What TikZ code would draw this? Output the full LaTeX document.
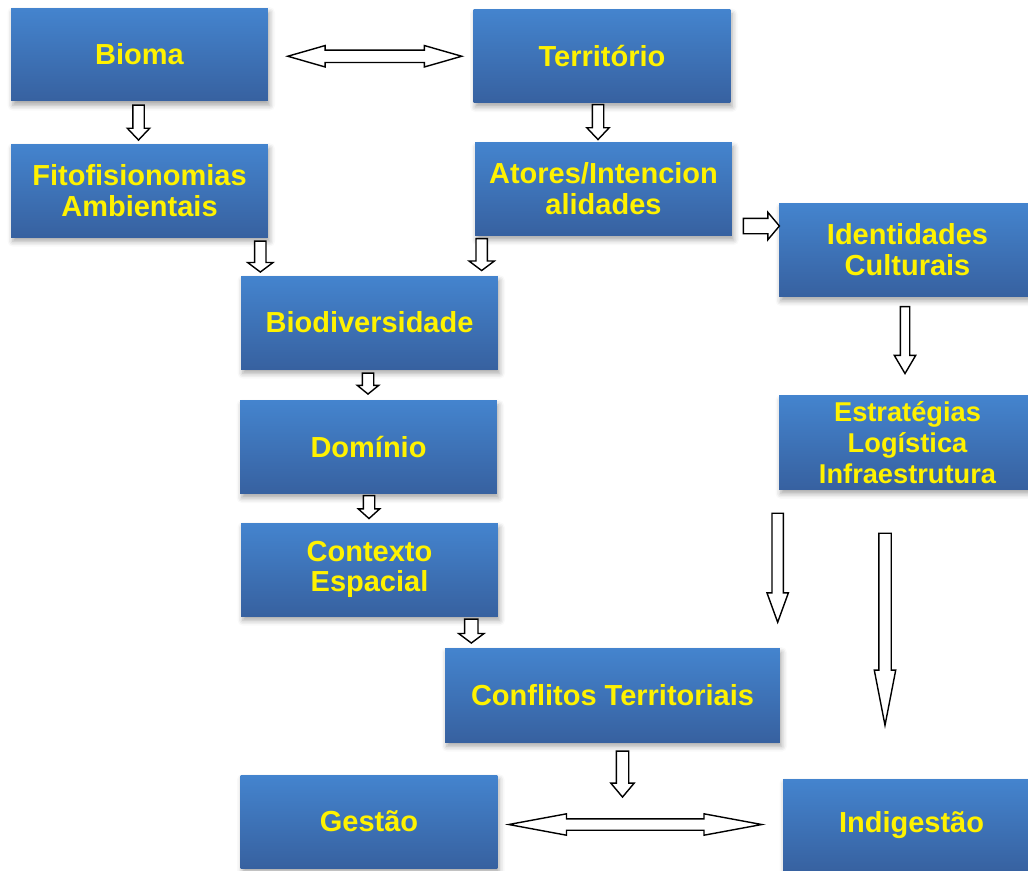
\documentclass[tikz,border=0pt]{standalone}
\usepackage{fontspec}
\setmainfont{Liberation Sans}
\usepackage{xcolor}
\usetikzlibrary{calc, shapes.arrows, shadows.blur}

\definecolor{boxtop}{RGB}{68,132,206}
\definecolor{boxbot}{RGB}{55,97,160}

\tikzset{
	box/.style = {rectangle, minimum width = 5.14cm, minimum height = 1.86cm,
		top color = boxtop, bottom color = boxbot, text = yellow, align = center,
		font = \fontsize{16.5}{17.5}\selectfont\bfseries,
		blur shadow = {shadow xshift = 1pt, shadow yshift = -2.5pt,
			shadow blur radius = 3pt, shadow opacity = 35}},
	blockarrow/.style = {draw, fill = white, line width = 0.8pt, inner sep = 0pt,
		single arrow, single arrow head indent = 0pt, anchor = tail},
	downarrow/.style = {blockarrow, rotate = -90},
	twoway/.style = {draw, fill = white, line width = 0.8pt, inner sep = 0pt,
		double arrow, double arrow head indent = 0pt}
}

\begin{document}
\begin{tikzpicture}[x = 0.02cm, y = -0.02cm]
	\clip (0,0) rectangle (1028,870);

	% left column
	\node [box] (bioma) at (139.5,54.5) {Bioma};
	\node [box] (fito) at (139.5,190.5) {Fitofisionomias\\Ambientais};
	\node [box] (biodiv) at (369.5,322.5) {Biodiversidade};
	\node [box] (dom) at (368.5,447) {Domínio};
	\node [box] (ctx) at (369.5,569.5) {Contexto\\Espacial};
	\node [box] (gestao) at (369,821.5) {Gestão};

	% right column
	\node [box] (terr) at (602,56) {Território};
	\node [box] (atores) at (603.5,189) {Atores/Intencion\\alidades};
	\node [box] (ident) at (907.5,250) {Identidades\\Culturais};
	\node [box, font = \fontsize{15.5}{17.5}\selectfont\bfseries] (estr) at (907.5,442.5) {Estratégias\\Logística\\Infraestrutura};
	\node [box, minimum width = 6.7cm, minimum height = 1.88cm] (confl) at (612.5,695) {Conflitos Territoriais};
	\node [box] (indig) at (911.5,825.5) {Indigestão};

	% block arrows
	\node [twoway, minimum height = 3.48cm, inner ysep = 0.11cm,
		double arrow head extend = 0.09cm, double arrow tip angle = 32]
		(a1) at ($(bioma.east)!0.5!(terr.west) + (4,1)$) {};
	\node [downarrow, minimum height = 0.7cm, inner ysep = 0.1cm,
		single arrow head extend = 0.11cm, single arrow tip angle = 87]
		(a2) at ($(bioma.south) + (-1,3)$) {};
	\node [downarrow, minimum height = 0.7cm, inner ysep = 0.1cm,
		single arrow head extend = 0.11cm, single arrow tip angle = 87]
		(a3) at ($(terr.south) + (-4,1)$) {};
	\node [downarrow, minimum height = 0.62cm, inner ysep = 0.1cm,
		single arrow head extend = 0.14cm, single arrow tip angle = 106]
		(a4) at ($(fito.south east) + (-8,3)$) {};
	\node [downarrow, minimum height = 0.64cm, inner ysep = 0.1cm,
		single arrow head extend = 0.14cm, single arrow tip angle = 106]
		(a5) at ($(atores.south west) + (7,2)$) {};
	\node [blockarrow, minimum height = 0.72cm, inner ysep = 0.14cm,
		single arrow head extend = 0.12cm, single arrow tip angle = 100]
		(a6) at ($(ident.west) + (-36,-24)$) {};
	\node [downarrow, minimum height = 1.34cm, inner ysep = 0.08cm,
		single arrow head extend = 0.12cm, single arrow tip angle = 61]
		(a7) at ($(ident.south) + (-2.5,9)$) {};
	\node [downarrow, minimum height = 0.42cm, inner ysep = 0.1cm,
		single arrow head extend = 0.1cm, single arrow tip angle = 102]
		(a8) at ($(biodiv.south) + (-1.5,3)$) {};
	\node [downarrow, minimum height = 0.46cm, inner ysep = 0.1cm,
		single arrow head extend = 0.1cm, single arrow tip angle = 96]
		(a9) at ($(dom.south) + (0.5,1)$) {};
	\node [downarrow, minimum height = 0.48cm, inner ysep = 0.12cm,
		single arrow head extend = 0.12cm, single arrow tip angle = 106]
		(a10) at ($(ctx.south east) + (-27,2)$) {};
	\node [downarrow, minimum height = 2.18cm, inner ysep = 0.1cm,
		single arrow head extend = 0.1cm, single arrow tip angle = 40]
		(a11) at ($(estr.south west) + (-1,23)$) {};
	\node [downarrow, minimum height = 3.84cm, inner ysep = 0.11cm,
		single arrow head extend = 0.09cm, single arrow tip angle = 22]
		(a12) at ($(estr.south) + (-22.5,43)$) {};
	\node [downarrow, minimum height = 0.92cm, inner ysep = 0.11cm,
		single arrow head extend = 0.11cm, single arrow tip angle = 80]
		(a13) at ($(confl.south) + (10,8)$) {};
	\node [twoway, minimum height = 5.06cm, inner ysep = 0.1cm,
		double arrow head extend = 0.1cm, double arrow tip angle = 21]
		(a14) at ($(gestao.east)!0.5!(indig.west) + (-5,1)$) {};
\end{tikzpicture}
\end{document}
